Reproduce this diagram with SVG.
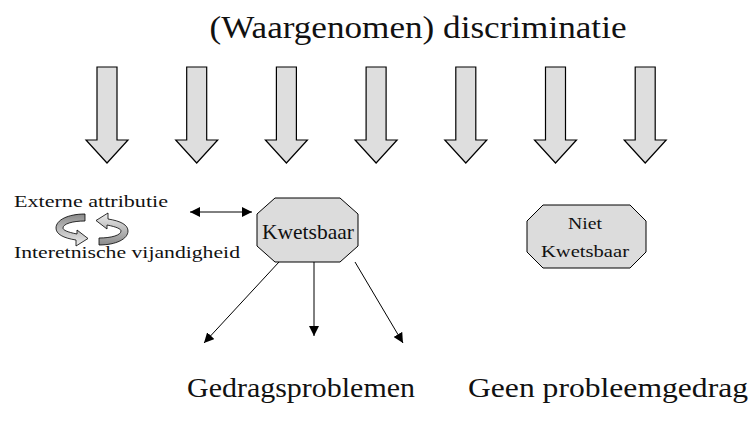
<svg xmlns="http://www.w3.org/2000/svg" width="752" height="422" viewBox="0 0 752 422">
<style>
text{font-family:"Liberation Serif","Times New Roman",serif;fill:#111}
.down{fill:#dedede;stroke:#000;stroke-width:1.2;stroke-linejoin:miter}
.oct{fill:#dcdcdc;stroke:#000;stroke-width:1}
.conn{stroke:#000;stroke-width:1;fill:none}
.cyc{fill:url(#g);stroke:#000;stroke-width:0.8}
</style>
<defs>
<marker id="ah" viewBox="0 0 10 10" refX="10" refY="5" markerWidth="10" markerHeight="10" markerUnits="userSpaceOnUse" orient="auto-start-reverse">
<path d="M0,0 L10,5 L0,10 Z" fill="#000"/>
</marker>
<linearGradient id="g" x1="0" y1="0" x2="0" y2="1">
<stop offset="0" stop-color="#8a8a8a"/>
<stop offset="0.5" stop-color="#bdbdbd"/>
<stop offset="1" stop-color="#eeeeee"/>
</linearGradient>
<path id="dn" d="M-10,67 L10,67 L10,140 L21,140 L0,163 L-21,140 L-10,140 Z"/>
</defs>
<text x="418" y="38" font-size="31" text-anchor="middle" textLength="417" lengthAdjust="spacingAndGlyphs">(Waargenomen) discriminatie</text>
<g id="discriminatie-pijlen">
<use href="#dn" class="down" x="107"/>
<use href="#dn" class="down" x="196.7"/>
<use href="#dn" class="down" x="286.4"/>
<use href="#dn" class="down" x="376.1"/>
<use href="#dn" class="down" x="465.8"/>
<use href="#dn" class="down" x="555.5"/>
<use href="#dn" class="down" x="645.2"/>
</g>
<g id="attributie">
<text x="14" y="207" font-size="17" textLength="154" lengthAdjust="spacingAndGlyphs">Externe attributie</text>
<text x="14" y="258" font-size="17" textLength="226" lengthAdjust="spacingAndGlyphs">Interetnische vijandigheid</text>
<path class="cyc" d="M85,214 C68,214 56,220 56,228 C56,234 63,238 76,240 L76,246 L88,238.5 L77,230 L77,234 C67,232 63,230 63,228 C63,224 72,221 85,221 Z"/>
<path class="cyc" transform="rotate(180 92 229.5)" d="M85,214 C68,214 56,220 56,228 C56,234 63,238 76,240 L76,246 L88,238.5 L77,230 L77,234 C67,232 63,230 63,228 C63,224 72,221 85,221 Z"/>
</g>
<g id="kwetsbaar">
<polygon class="oct" points="275,198 340,198 358,214 358,246 340,262 275,262 257,246 257,214"/>
<text x="308" y="239" font-size="21" text-anchor="middle" textLength="92" lengthAdjust="spacingAndGlyphs">Kwetsbaar</text>
</g>
<g id="niet-kwetsbaar">
<polygon class="oct" points="543,205 630,205 646,221 646,252 630,268 543,268 527,252 527,221"/>
<text x="585" y="229" font-size="17" text-anchor="middle" textLength="34" lengthAdjust="spacingAndGlyphs">Niet</text>
<text x="585" y="257" font-size="17" text-anchor="middle" textLength="88" lengthAdjust="spacingAndGlyphs">Kwetsbaar</text>
</g>
<g id="gedragsproblemen">
<text x="187" y="397" font-size="27" textLength="228" lengthAdjust="spacingAndGlyphs">Gedragsproblemen</text>
</g>
<g id="geen-probleemgedrag">
<text x="468" y="397" font-size="27" textLength="280" lengthAdjust="spacingAndGlyphs">Geen probleemgedrag</text>
</g>
<g id="connectors">
<line class="conn" x1="190" y1="212" x2="252" y2="212" marker-start="url(#ah)" marker-end="url(#ah)"/>
<line class="conn" x1="279" y1="262" x2="204" y2="343" marker-end="url(#ah)"/>
<line class="conn" x1="314" y1="262" x2="314" y2="336" marker-end="url(#ah)"/>
<line class="conn" x1="355" y1="262" x2="403" y2="343" marker-end="url(#ah)"/>
</g>
</svg>
